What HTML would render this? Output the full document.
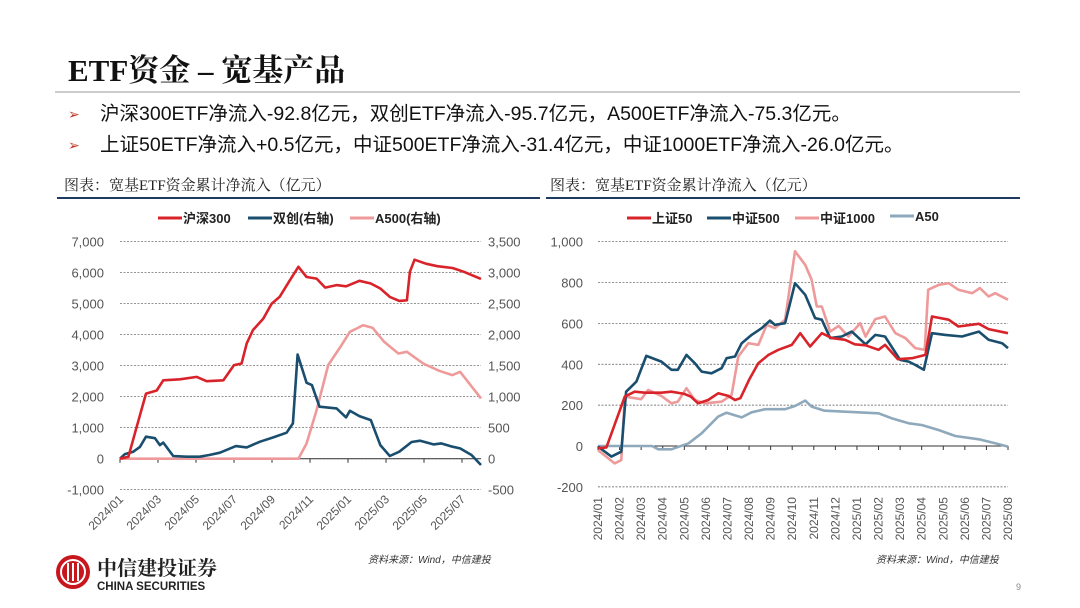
<!DOCTYPE html>
<html><head><meta charset="utf-8">
<style>
body{margin:0;width:1080px;height:608px;overflow:hidden;background:#fff;font-family:"Liberation Sans","Noto Sans CJK SC",sans-serif;}
svg{position:absolute;left:0;top:0}
</style></head>
<body>
<svg id="s" width="1080" height="608" viewBox="0 0 1080 608">
<text x="68" y="81" font-family="Liberation Serif,Noto Serif CJK SC,serif" font-size="31" font-weight="bold" fill="#111">ETF资金 – 宽基产品</text>
<line x1="55" y1="92" x2="1020" y2="92" stroke="#999" stroke-width="1"/>
<text x="68" y="119" font-size="14" fill="#c0392b">➢</text>
<text x="100" y="120" font-size="19.5" fill="#111">沪深300ETF净流入-92.8亿元，双创ETF净流入-95.7亿元，A500ETF净流入-75.3亿元。</text>
<text x="68" y="150" font-size="14" fill="#c0392b">➢</text>
<text x="100" y="151" font-size="19.5" fill="#111">上证50ETF净流入+0.5亿元，中证500ETF净流入-31.4亿元，中证1000ETF净流入-26.0亿元。</text>
<text x="64" y="190" font-family="Liberation Serif,Noto Serif CJK SC,serif" font-size="15" fill="#222">图表：宽基ETF资金累计净流入（亿元）</text>
<text x="550" y="190" font-family="Liberation Serif,Noto Serif CJK SC,serif" font-size="15" fill="#222">图表：宽基ETF资金累计净流入（亿元）</text>
<line x1="57" y1="198" x2="540" y2="198" stroke="#1f3a5f" stroke-width="2"/>
<line x1="546" y1="198" x2="1020" y2="198" stroke="#1f3a5f" stroke-width="2"/>
<g id="L"></g>
<g id="R"></g>
<text x="368" y="563" font-size="10" font-style="italic" fill="#333">资料来源：Wind，中信建投</text>
<text x="876" y="563" font-size="10" font-style="italic" fill="#333">资料来源：Wind，中信建投</text>
<g>
<circle cx="73" cy="572" r="17" fill="#c8161d"/>
<circle cx="73" cy="572" r="12" fill="none" stroke="#fff" stroke-width="2"/>
<line x1="68" y1="563" x2="68" y2="581" stroke="#fff" stroke-width="2"/>
<line x1="73" y1="563" x2="73" y2="581" stroke="#fff" stroke-width="2"/>
<line x1="78" y1="563" x2="78" y2="581" stroke="#fff" stroke-width="2"/>
<text x="97" y="575" font-family="Liberation Serif,Noto Serif CJK SC,serif" font-size="20" font-weight="bold" fill="#222">中信建投证券</text>
<text x="97" y="590" font-size="11.5" font-weight="bold" fill="#222">CHINA SECURITIES</text>
</g>
<text x="1016" y="590" font-size="9" fill="#888">9</text>
</svg>
<script>
// Left chart data (month index from 2024/01)
const hsMonths=[0,0.44,0.88,1.37,1.93,2.28,3.16,4.04,4.56,5.44,6.0,6.4,6.67,7.0,7.54,7.98,8.4,8.95,9.39,9.82,10.35,10.8,11.4,11.9,12.6,13.2,13.7,14.2,14.7,15.1,15.26,15.5,16.1,16.7,17.5,18.1,19];
const hs300=[0,60,1030,2100,2200,2530,2560,2640,2500,2530,3020,3070,3720,4150,4520,5000,5220,5760,6190,5860,5810,5520,5600,5560,5740,5650,5490,5220,5090,5110,6030,6420,6290,6210,6150,6030,5800];
const scMonths=[0,0.26,0.7,1.05,1.37,1.84,2.1,2.28,2.8,3.5,4.2,4.7,5.26,6.1,6.67,7.37,8.07,8.77,9.1,9.35,9.82,10.1,10.5,11.4,11.9,12.1,12.6,13.2,13.7,14.2,14.7,15.35,15.8,16.5,16.9,17.5,17.9,18.5,19];
const shuangchuang=[0,75,113,190,355,330,220,260,43,32,32,60,97,204,183,274,344,420,570,1680,1225,1187,838,811,666,773,687,623,220,43,113,269,290,231,247,193,166,59,-102];
const a5Months=[0,9.39,9.82,10.35,10.96,11.6,12.1,12.46,12.8,13.3,13.9,14.65,15.1,15.96,16.8,17.5,17.9,19];
const a500=[0,0,247,784,1509,1804,2046,2100,2154,2110,1885,1697,1724,1536,1418,1348,1402,972];
const leftTicks=["-1,000","0","1,000","2,000","3,000","4,000","5,000","6,000","7,000"];
const leftTickVals=[-1000,0,1000,2000,3000,4000,5000,6000,7000];
const rightTicks=["-500","0","500","1,000","1,500","2,000","2,500","3,000","3,500"];
const leftDates=["2024/01","2024/03","2024/05","2024/07","2024/09","2024/11","2025/01","2025/03","2025/05","2025/07"];
const leftDateMonths=[0,2,4,6,8,10,12,14,16,18];
// Right chart data
const szMonths=[0,0.39,1.24,1.7,2.17,2.94,3.4,4.0,4.3,4.64,5.1,5.57,6.04,6.35,6.6,7.0,7.43,7.9,8.36,8.98,9.37,9.83,10.37,10.84,11.45,11.9,12.4,13.0,13.3,13.9,14.55,15.17,15.48,16.25,16.7,17.65,18.1,19];
const sz50=[-11,-7,242,266,261,261,266,255,242,209,225,258,245,225,234,324,405,446,471,495,552,487,552,528,520,498,493,471,495,425,430,446,634,618,585,598,572,552];
const z500Months=[0,0.62,1.08,1.3,1.78,2.24,2.94,3.4,3.7,4.1,4.49,4.8,5.26,5.73,5.96,6.35,6.66,7.12,7.59,7.97,8.2,8.67,9.13,9.6,10.06,10.37,10.76,11.3,11.76,12.4,12.85,13.3,14.0,14.4,14.7,15.1,15.48,16.1,16.87,17.65,18.1,18.73,19];
const zz500=[-3,-52,-28,266,315,441,413,373,373,446,405,364,356,381,430,438,503,544,577,614,593,601,797,740,626,618,528,536,560,498,544,536,422,413,397,373,552,544,536,560,520,503,479];
const z1000Months=[0,0.77,1.08,1.24,2.0,2.32,2.94,3.4,3.7,4.1,4.49,4.95,5.73,6.19,6.5,6.97,7.43,7.82,8.2,8.67,9.13,9.6,9.9,10.14,10.37,10.76,11.15,11.6,12.15,12.4,12.85,13.3,13.78,14.24,14.7,15.14,15.3,15.8,16.25,16.7,17.34,17.7,18.1,18.4,19];
const zz1000=[-20,-85,-69,242,229,274,245,209,217,283,225,209,217,250,438,503,495,593,577,618,953,887,814,683,683,560,588,536,601,536,621,634,552,528,479,471,765,789,797,765,748,773,732,748,716];
const a50Months=[0,2.5,2.8,3.4,4.2,4.8,5.57,5.96,6.66,7.12,7.74,8.67,9.13,9.6,9.9,10.5,11.45,12.4,13.0,13.6,14.4,15.0,15.8,16.56,17.65,18.4,19];
const a50=[0,0,-16,-16,13,62,144,163,140,165,180,180,196,222,193,173,168,163,160,136,111,103,78,49,33,13,-3];
const rTicks=["-200","0","200","400","600","800","1,000"];
const rTickVals=[-200,0,200,400,600,800,1000];
const rDates=["2024/01","2024/02","2024/03","2024/04","2024/05","2024/06","2024/07","2024/08","2024/09","2024/10","2024/11","2024/12","2025/01","2025/02","2025/03","2025/04","2025/05","2025/06","2025/07","2025/08"];

const NS="http://www.w3.org/2000/svg";
function mk(parent,tag,attrs){const e=document.createElementNS(NS,tag);for(const k in attrs)e.setAttribute(k,attrs[k]);parent.appendChild(e);return e;}

const Lx=m=>120+m*(361/19);
const Ly=v=>458.7-v*0.031;
const LyR=v=>458.7-v*0.062;
const L=document.getElementById('L');
leftTickVals.forEach((v,i)=>{
  const g=mk(L,'line',{x1:120,x2:481,y1:Ly(v),y2:Ly(v),stroke:'#555','stroke-width':0.7,'stroke-dasharray':'2,1.5'});
  
  
  const t=mk(L,'text',{x:104,y:Ly(v)+5,'text-anchor':'end','font-size':13,fill:'#555'});t.textContent=leftTicks[i];
  
  
  const t2=mk(L,'text',{x:488,y:Ly(v)+5,'font-size':13,fill:'#555'});t2.textContent=rightTicks[i];
  
  
});
const lax=mk(L,'line',{x1:120,x2:481,y1:Ly(0),y2:Ly(0),stroke:'#333','stroke-width':1});


leftDateMonths.forEach((m,i)=>{
  const tk=mk(L,'line',{x1:Lx(m),x2:Lx(m),y1:Ly(0),y2:Ly(0)+4,stroke:'#333'});
  
  
  const t=mk(L,'text',{x:Lx(m)+4,y:500,'text-anchor':'end','font-size':12,fill:'#555',transform:`rotate(-45 ${Lx(m)+4} 500)`});t.textContent=leftDates[i];
  
  
});
function line(parent,xs,ys,fx,fy,color,name){
  const d=xs.map((x,i)=>(i?'L':'M')+fx(x).toFixed(1)+','+fy(ys[i]).toFixed(1)).join('');
  const p=mk(parent,'path',{d:d,fill:'none',stroke:color,'stroke-width':2.6,'stroke-linejoin':'round'});
  
  
}
line(L,a5Months,a500,Lx,LyR,'#ef9a9a','a500-line');
line(L,scMonths,shuangchuang,Lx,LyR,'#1a4e6e','shuangchuang-line');
line(L,hsMonths,hs300,Lx,Ly,'#d9232a','hs300-line');
function legend(parent,x,y,color,label,name){
  const g=mk(parent,'g',{});
  
  
  mk(g,'line',{x1:x,x2:x+24,y1:y,y2:y,stroke:color,'stroke-width':3});
  const t=mk(g,'text',{x:x+25,y:y+5,'font-size':13,'font-weight':'bold',fill:'#222'});t.textContent=label;
}
legend(L,158,218,'#d9232a','沪深300','legend-hs300');
legend(L,248,218,'#1a4e6e','双创(右轴)','legend-shuangchuang');
legend(L,350,218,'#ef9a9a','A500(右轴)','legend-a500');

const Rx=m=>598+m*(410/19);
const Ry=v=>446-v*0.2043;
const R=document.getElementById('R');
rTickVals.forEach((v,i)=>{
  const g=mk(R,'line',{x1:598,x2:1008,y1:Ry(v),y2:Ry(v),stroke:'#555','stroke-width':0.7,'stroke-dasharray':'2,1.5'});
  
  
  const t=mk(R,'text',{x:583,y:Ry(v)+5,'text-anchor':'end','font-size':13,fill:'#555'});t.textContent=rTicks[i];
  
  
});
const rax=mk(R,'line',{x1:598,x2:1008,y1:Ry(0),y2:Ry(0),stroke:'#333','stroke-width':1});


rDates.forEach((d,i)=>{
  const x=Rx(i);
  const tk=mk(R,'line',{x1:x,x2:x,y1:Ry(0),y2:Ry(0)+4,stroke:'#333'});
  
  
  const t=mk(R,'text',{x:x+4,y:497,'text-anchor':'end','font-size':12,fill:'#555',transform:`rotate(-90 ${x+4} 497)`});t.textContent=d;
  
  
});
line(R,a50Months,a50,Rx,Ry,'#8fa9bc','a50-line');
line(R,z1000Months,zz1000,Rx,Ry,'#ef9a9a','zz1000-line');
line(R,z500Months,zz500,Rx,Ry,'#1a4e6e','zz500-line');
line(R,szMonths,sz50,Rx,Ry,'#d9232a','sz50-line');
legend(R,627,218,'#d9232a','上证50','legend-sz50');
legend(R,707,218,'#1a4e6e','中证500','legend-zz500');
legend(R,795,218,'#ef9a9a','中证1000','legend-zz1000');
legend(R,890,216,'#8fa9bc','A50','legend-a50');
</script>
</body></html>
